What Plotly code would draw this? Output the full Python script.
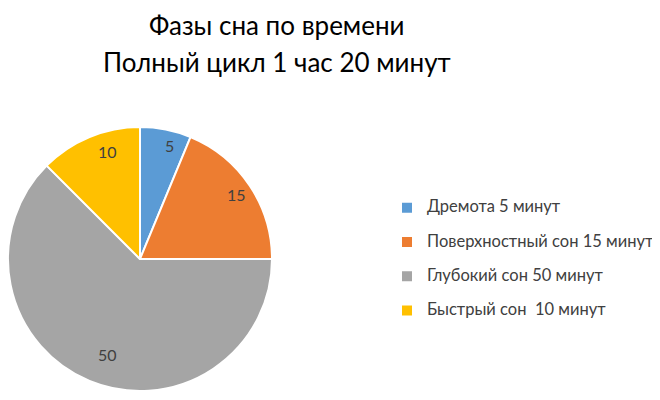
import math
import plotly.graph_objects as go

title_lines = ["Фазы сна по времени", "Полный цикл 1 час 20 минут"]
phases = ["Дремота 5 минут", "Поверхностный сон 15 минут", "Глубокий сон 50 минут", "Быстрый сон  10 минут"]
minutes = [5, 15, 50, 10]
colors = ["#5B9BD5", "#ED7D31", "#A5A5A5", "#FFC000"]

W, H = 660, 400
# pie placement in figure pixels (page has an 8px body offset)
cx, cy, R = 132, 251, 132

fig = go.Figure(
    go.Pie(
        labels=["<span style='font-size:16.5px'>" + p + "</span><br> " for p in phases],
        values=minutes,
        sort=False,
        direction="clockwise",
        rotation=0,
        marker=dict(colors=colors, line=dict(color="white", width=2)),
        textinfo="none",
        hoverinfo="value",
        domain=dict(x=[(cx - R) / W, (cx + R) / W], y=[1 - (cy + R) / H, 1 - (cy - R) / H]),
    )
)

# value labels like Excel: near the rim, mid-angle of each slice
total = sum(minutes)
cum = 0
annotations = []
for v in minutes:
    theta = 2 * math.pi * (cum + v / 2) / total
    cum += v
    r = 0.88 * R
    px = cx + r * math.sin(theta)
    py = cy - r * math.cos(theta)
    annotations.append(
        dict(x=px / W, y=1 - py / H, xref="paper", yref="paper", text=str(v), showarrow=False,
             font=dict(size=16, color="#404040"))
    )

for i, line in enumerate(title_lines):
    annotations.append(
        dict(x=269 / W, y=1 - (17 + 37 * i) / H, xref="paper", yref="paper", text=line, showarrow=False,
             xanchor="center", yanchor="middle", font=dict(size=26, color="#000000"))
    )

fig.update_layout(
    width=W,
    height=H,
    margin=dict(l=0, r=0, t=0, b=0),
    paper_bgcolor="white",
    font=dict(family="Lato, Open Sans, sans-serif", color="#404040"),
    annotations=annotations,
    showlegend=True,
    legend=dict(
        x=379 / W,
        y=1 - 259 / H,
        xanchor="left",
        yanchor="middle",
        valign="top",
        font=dict(size=12, color="#404040"),
    ),
)

fig.write_html("out.html")
